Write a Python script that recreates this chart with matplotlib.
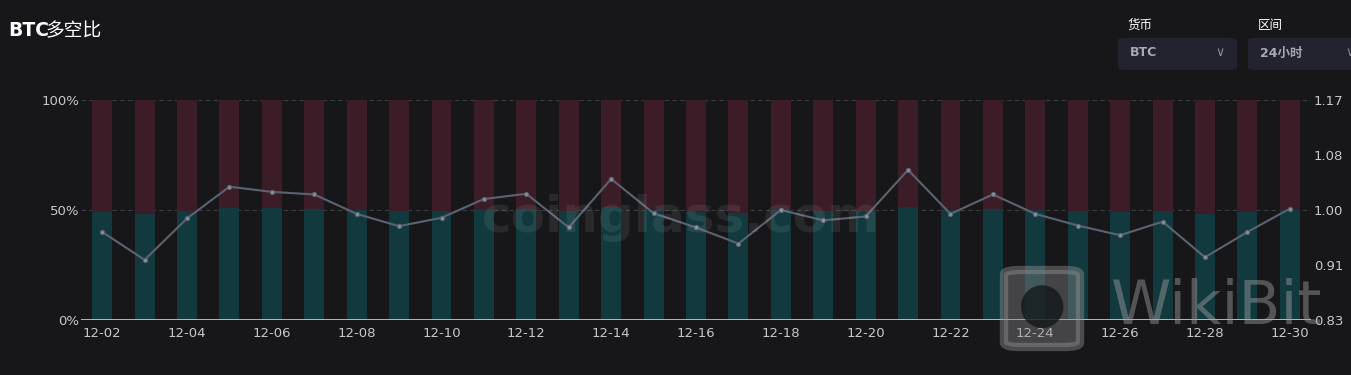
import numpy as np
import matplotlib
matplotlib.use("Agg")
import matplotlib.pyplot as plt
from matplotlib.patches import FancyBboxPatch
from matplotlib import rcParams

rcParams['font.family'] = ['DejaVu Sans', 'Noto Sans CJK SC']

# data
dates = ['12-%02d' % d for d in range(2, 31)]
ratio = [0.966, 0.923, 0.987, 1.036, 1.028, 1.024, 0.994, 0.975, 0.988, 1.017,
         1.025, 0.973, 1.048, 0.995, 0.973, 0.948, 1.000, 0.984, 0.990, 1.062,
         0.994, 1.024, 0.994, 0.976, 0.961, 0.982, 0.927, 0.966, 1.002]
long_pct = [49.15, 47.99, 49.67, 50.88, 50.69, 50.59, 49.84, 49.36, 49.70, 50.43,
            50.62, 49.32, 51.17, 49.88, 49.31, 48.67, 50.00, 49.58, 49.75, 51.50,
            49.86, 50.59, 49.86, 49.40, 49.02, 49.53, 48.12, 49.13, 50.05]
short_pct = [100 - v for v in long_pct]
right_ticks = [0.83, 0.915, 1.0, 1.085, 1.17]
right_labels = ['0.83', '0.91', '1.00', '1.08', '1.17']

bg = '#17171a'
green = '#123a3e'
red = '#3b1c27'
line_c = '#5b6270'
txt = '#c8c8cc'

fig = plt.figure(figsize=(13.51, 3.75), dpi=100, facecolor=bg)
ax = fig.add_axes([81/1351, 1-320/375, 1230/1351, 220/375])
ax.set_facecolor(bg)

x = np.arange(len(dates))
ax.bar(x, long_pct, width=0.47, color=green, zorder=2)
ax.bar(x, short_pct, width=0.47, bottom=long_pct, color=red, zorder=2)
ax.set_xlim(-0.5, len(dates) - 0.5)
ax.set_ylim(0, 100)
ax.set_yticks([0, 50, 100])
ax.set_yticklabels(['0%', '50%', '100%'])
for yv in [50, 100]:
    ax.axhline(yv, color='#3c3c40', lw=0.8, ls=(0, (4, 3)), zorder=1)
ax.axhline(0, color='#d0d0d4', lw=1.2, zorder=4)
ax.set_xticks(x[::2])
ax.set_xticklabels(dates[::2])
ax.tick_params(axis='both', length=0, colors=txt, labelsize=9.5)
ax.tick_params(axis='x', pad=5)
ax.tick_params(axis='y', pad=1)
for s in ax.spines.values():
    s.set_visible(False)

ax2 = ax.twinx()
ax2.plot(x, ratio, color=line_c, lw=1.5, marker='o', ms=3,
         mfc='#8a909a', mec=line_c, mew=0.8, zorder=5)
ax2.set_ylim(0.83, 1.17)
ax2.set_yticks(right_ticks)
ax2.set_yticklabels(right_labels)
ax2.tick_params(axis='y', length=0, colors=txt, labelsize=9.5, pad=2)
for s in ax2.spines.values():
    s.set_visible(False)

# watermarks
fig.text(681/1351, 1-218/375, 'coinglass.com', color='#ffffff', alpha=0.08,
         fontsize=36, fontweight='bold', ha='center', va='center', zorder=10)
logo = FancyBboxPatch((1004/1351, 1-347/375), 76/1351, 77/375,
                      boxstyle='round,pad=0,rounding_size=0.012',
                      transform=fig.transFigure, facecolor='#8a8a8a',
                      edgecolor='#9a9a9a', lw=6, alpha=0.4, zorder=10)
fig.patches.append(logo)
fig.text(1042/1351, 1-306/375, '\u25CF', color='#101416', alpha=0.75,
         fontsize=40, ha='center', va='center', zorder=11)
fig.text(1217/1351, 1-307/375, 'WikiBit', color='#a0a0a0', alpha=0.45,
         fontsize=44, fontweight='medium', ha='center', va='center', zorder=10)

# title and selectors
fig.text(8/1351, 1-31/375, 'BTC', color='white', fontsize=13.5,
         fontweight='bold', va='center')
fig.text(46/1351, 1-31/375, '多空比', color='white', fontsize=13.5,
         va='center', family=['Noto Sans CJK SC'])
fig.text(1128/1351, 1-25/375, '货币', color='white', fontsize=9,
         va='center', family=['Noto Sans CJK SC'])
fig.text(1258/1351, 1-25/375, '区间', color='white', fontsize=9,
         va='center', family=['Noto Sans CJK SC'])
for bx, bw, label in [(1118, 119, 'BTC'), (1248, 120, '24小时')]:
    box = FancyBboxPatch((bx/1351, 1-70/375), bw/1351, 32/375,
                         boxstyle='round,pad=0,rounding_size=0.006',
                         transform=fig.transFigure, facecolor='#22232e',
                         edgecolor='none')
    fig.patches.append(box)
    fig.text((bx+12)/1351, 1-53/375, label, color='#a4a8b8', fontsize=9,
             fontweight='bold', va='center',
             family=['DejaVu Sans', 'Noto Sans CJK SC'])
    fig.text((bx+102)/1351, 1-53/375, '\u2228', color='#8a8e9c', fontsize=9,
             va='center', ha='center')

fig.savefig('out.png', dpi=100, facecolor=bg)
